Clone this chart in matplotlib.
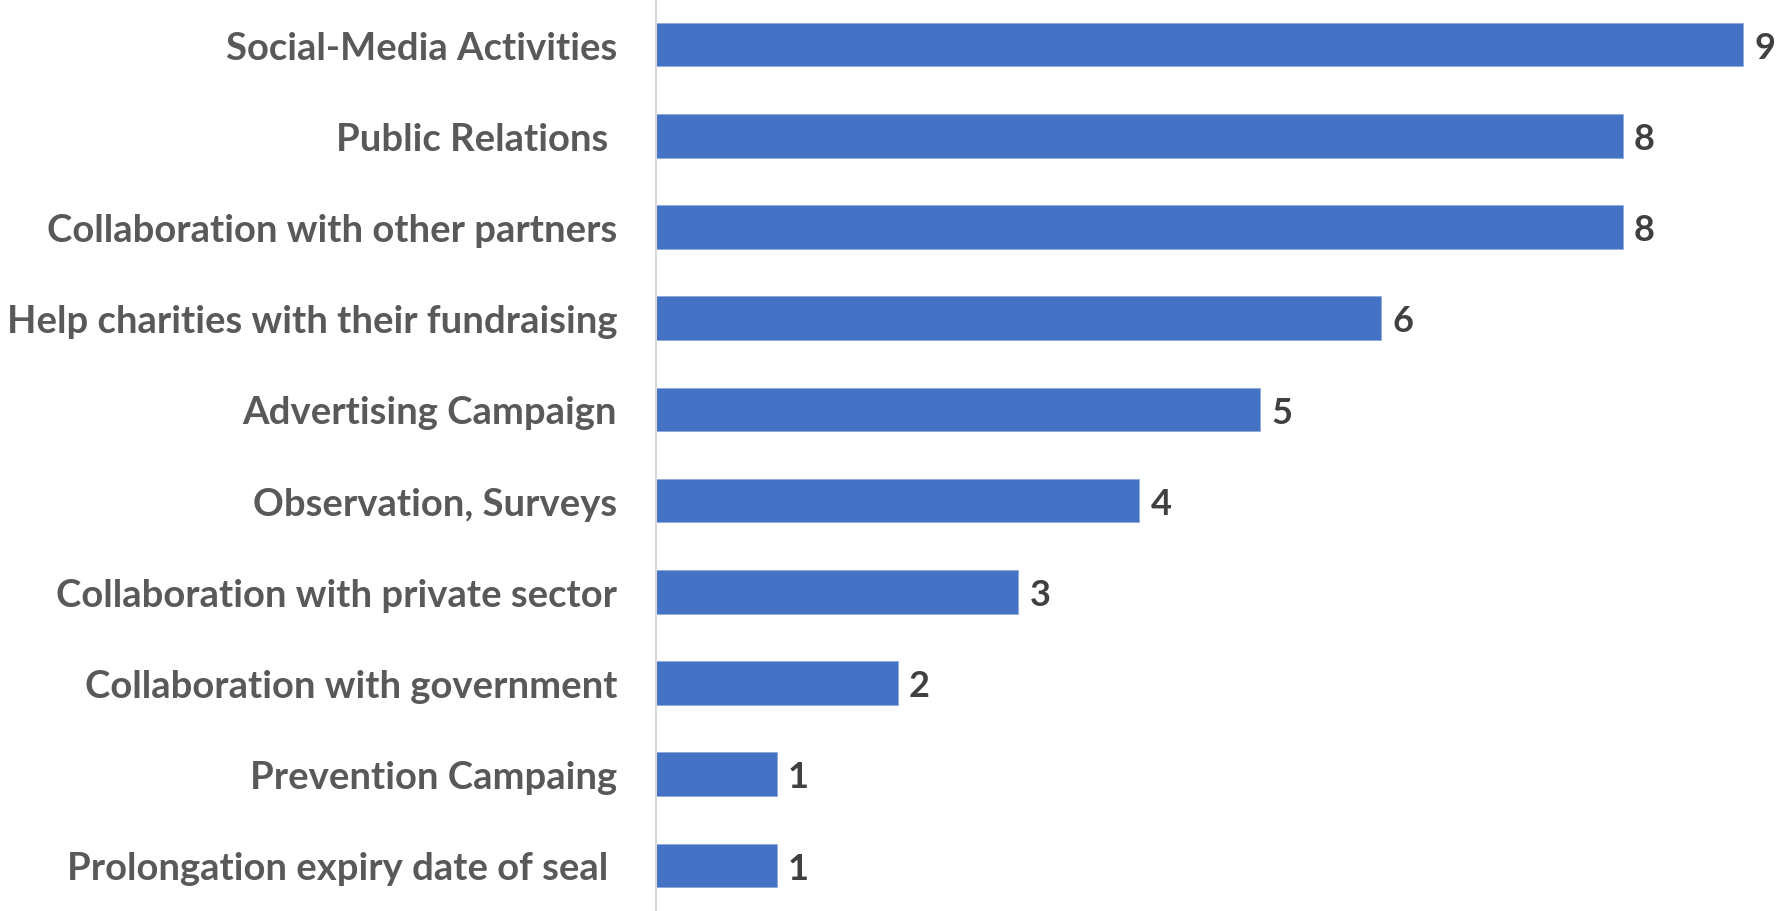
import matplotlib.pyplot as plt

categories = [
    "Social-Media Activities",
    "Public Relations ",
    "Collaboration with other partners",
    "Help charities with their fundraising",
    "Advertising Campaign",
    "Observation, Surveys",
    "Collaboration with private sector",
    "Collaboration with government",
    "Prevention Campaing",
    "Prolongation expiry date of seal ",
]
counts = [9, 8, 8, 6, 5, 4, 3, 2, 1, 1]

plt.rcParams['font.family'] = ['Lato', 'DejaVu Sans']

fig = plt.figure(figsize=(17.76, 9.12), dpi=100)
ax = fig.add_axes([656 / 1776, 0, 1 - 656 / 1776, 1])

y = list(range(len(categories)))
bars = ax.barh(y, counts, height=0.48, color="#4472C4", edgecolor="#8FAADC", linewidth=0.6)

for yi, v in zip(y, counts):
    ax.annotate(str(v), (v, yi), xytext=(8, -2), textcoords="offset points",
                va="center", ha="left", fontsize=26, fontweight="bold", color="#404040")

ax.set_yticks(y)
ax.set_yticklabels(categories, fontsize=27.5, fontweight="bold", color="#595959")
ax.tick_params(axis="y", length=0, pad=28)
ax.set_ylim(len(categories) - 0.5, -0.5)
ax.set_xlim(0, 9.27)
ax.set_xticks([])

for side in ["top", "right", "bottom"]:
    ax.spines[side].set_visible(False)
ax.spines["left"].set_color("#D9D9D9")
ax.spines["left"].set_linewidth(1.5)

fig.savefig("out.png", dpi=100)
